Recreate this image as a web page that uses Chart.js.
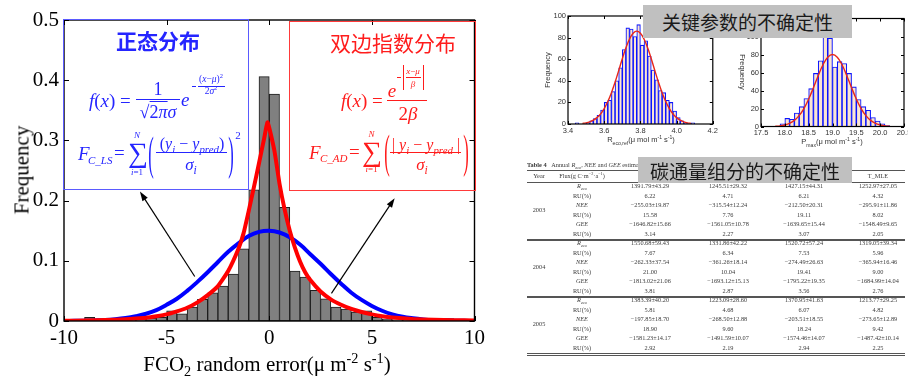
<!DOCTYPE html>
<html lang="zh">
<head>
<meta charset="utf-8">
<title>FCO2 随机误差分布与不确定性</title>
<script src="https://cdn.jsdelivr.net/npm/chart.js@4.4.1/dist/chart.umd.min.js"></script>
<style>
  html, body { margin:0; padding:0; background:#fff; }
  body { position:relative; width:908px; height:379px; overflow:hidden;
         font-family:"Liberation Serif","Times New Roman",serif; color:#000; }
  .pane { position:absolute; }
  .pane canvas { display:block; }
  #paneMain { left:0; top:0; width:490px; height:379px; }
  #paneR { left:520px; top:0; width:200px; height:150px; }
  #paneP { left:700px; top:0; width:230px; height:150px; }
  .t { position:absolute; white-space:nowrap; line-height:1; }
  .cc { transform:translate(-50%,-50%); }
  .lc { transform:translate(0,-50%); }
  sub, sup { font-size:0.68em; line-height:0; }
  .hl { position:absolute; height:0; border-top:1px solid currentColor; }
  .vl { position:absolute; width:0; border-left:1px solid currentColor; }
  .fbox { position:absolute; box-sizing:border-box; background:transparent; }
  .blue { color:#2525ff; }
  .red { color:#ff1c1c; }
  .cn { font-family:"Noto Sans CJK SC","Noto Sans",sans-serif; }
  .tag { position:absolute; background:#c0c0c0; color:#1a1a1a; font-family:"Noto Sans CJK SC",sans-serif;
         font-size:19px; display:flex; align-items:center; justify-content:center; box-sizing:border-box; }
  #tbl { position:absolute; left:0; top:0; width:908px; height:379px; filter:blur(0.35px); color:#3a3a3a;
         font-family:"Liberation Serif",serif; font-size:6.3px; }
  #tbl .c { position:absolute; white-space:nowrap; transform:translate(-50%,-50%); line-height:1; }
  #tbl .rule { position:absolute; left:527px; width:378px; height:0; }
  .small { font-family:"Liberation Sans",Arial,sans-serif; font-size:7.5px; color:#333; }
</style>
</head>
<body>

<div class="pane" id="paneMain"><canvas id="cMain"></canvas></div>
<div class="pane" id="paneR"><canvas id="cR"></canvas></div>
<div class="pane" id="paneP"><canvas id="cP"></canvas></div>

<!-- axis titles of the main histogram -->
<div class="t" id="ytMain" style="left:22px;top:170px;font-size:21px;transform:translate(-50%,-50%) rotate(-90deg);">Frequency</div>
<div class="t cc" id="xtMain" style="left:267px;top:364px;font-size:21px;">FCO<sub>2</sub> random error(μ m<sup>-2</sup> s<sup>-1</sup>)</div>

<!-- normal distribution panel -->
<div class="fbox" style="left:63px;top:19px;width:186px;height:171px;border:1.5px solid #5a5aff;"></div>
<div class="t cc cn blue" style="left:158px;top:40px;font-size:21px;font-weight:700;">正态分布</div>
<div class="blue">
  <span class="t lc" style="left:89px;top:100px;font-size:19px;"><i>f</i>(<i>x</i>) =</span>
  <span class="hl" style="left:136px;top:99px;width:44px;"></span>
  <span class="t cc" style="left:158px;top:89px;font-size:18px;">1</span>
  <span class="t cc" style="left:158px;top:112px;font-size:18px;">√<span style="border-top:1px solid #2525ff;">2<i>π</i></span><i>σ</i></span>
  <span class="t lc" style="left:181px;top:99px;font-size:19px;"><i>e</i></span>
  <span class="hl" style="left:192px;top:86px;width:4px;"></span>
  <span class="t cc" style="left:211px;top:80px;font-size:9.5px;">(<i>x</i>−<i>μ</i>)<sup>2</sup></span>
  <span class="hl" style="left:198px;top:86px;width:27px;"></span>
  <span class="t cc" style="left:211px;top:92px;font-size:9.5px;">2<i>σ</i><sup>2</sup></span>

  <span class="t lc" style="left:78px;top:153px;font-size:19px;"><i>F</i></span>
  <span class="t lc" style="left:88px;top:160px;font-size:11px;"><i>C_LS</i></span>
  <span class="t lc" style="left:114px;top:152px;font-size:19px;">=</span>
  <span class="t cc" style="left:138px;top:153px;font-size:28px;">∑</span>
  <span class="t cc" style="left:137px;top:135px;font-size:9px;"><i>N</i></span>
  <span class="t cc" style="left:137px;top:172px;font-size:9px;"><i>i</i>=1</span>
  <span class="t" style="left:151px;top:154px;font-size:22px;transform:translate(-50%,-50%) scale(0.75,2.1);">(</span>
  <span class="t cc" style="left:192px;top:144px;font-size:16px;">(<i>y</i><sub><i>i</i></sub> − <i>y</i><sub><i>pred</i></sub>)</span>
  <span class="hl" style="left:156px;top:152px;width:71px;"></span>
  <span class="t cc" style="left:191px;top:164px;font-size:17px;"><i>σ</i><sub><i>i</i></sub></span>
  <span class="t" style="left:231px;top:154px;font-size:22px;transform:translate(-50%,-50%) scale(0.75,2.1);">)</span>
  <span class="t cc" style="left:238px;top:135px;font-size:11px;">2</span>
</div>

<!-- Laplace distribution panel -->
<div class="fbox" style="left:289px;top:21px;width:187px;height:170px;border:1.5px solid #ff3a3a;"></div>
<div class="t cc cn red" style="left:393px;top:42px;font-size:21px;">双边指数分布</div>
<div class="red">
  <span class="t lc" style="left:341px;top:100px;font-size:19px;"><i>f</i>(<i>x</i>) =</span>
  <span class="hl" style="left:387px;top:100px;width:40px;"></span>
  <span class="t cc" style="left:392px;top:90px;font-size:19px;"><i>e</i></span>
  <span class="hl" style="left:397px;top:77px;width:4px;"></span>
  <span class="vl" style="left:403px;top:65px;height:25px;"></span>
  <span class="t cc" style="left:413px;top:70.5px;font-size:9px;"><i>x</i>−<i>μ</i></span>
  <span class="hl" style="left:406px;top:77px;width:15px;"></span>
  <span class="t cc" style="left:413px;top:84px;font-size:9px;"><i>β</i></span>
  <span class="vl" style="left:423px;top:65px;height:25px;"></span>
  <span class="t cc" style="left:408px;top:113px;font-size:19px;">2<i>β</i></span>

  <span class="t lc" style="left:309px;top:152px;font-size:19px;"><i>F</i></span>
  <span class="t lc" style="left:320px;top:158px;font-size:11px;"><i>C_AD</i></span>
  <span class="t lc" style="left:349px;top:151px;font-size:19px;">=</span>
  <span class="t cc" style="left:372px;top:152px;font-size:28px;">∑</span>
  <span class="t cc" style="left:371.5px;top:133.5px;font-size:9px;"><i>N</i></span>
  <span class="t cc" style="left:371.5px;top:169px;font-size:9px;"><i>i</i>=1</span>
  <span class="t" style="left:386.5px;top:152px;font-size:22px;transform:translate(-50%,-50%) scale(0.75,2.1);">(</span>
  <span class="t cc" style="left:426px;top:145px;font-size:16px;">| <i>y</i><sub><i>i</i></sub> − <i>y</i><sub><i>pred</i></sub> |</span>
  <span class="hl" style="left:390px;top:152px;width:71px;"></span>
  <span class="t cc" style="left:422px;top:163.5px;font-size:17px;"><i>σ</i><sub><i>i</i></sub></span>
  <span class="t" style="left:466px;top:152px;font-size:22px;transform:translate(-50%,-50%) scale(0.75,2.1);">)</span>
</div>

<!-- axis titles of the two parameter histograms -->
<div class="t small" style="left:548px;top:70px;transform:translate(-50%,-50%) rotate(-90deg);">Frequency</div>
<div class="t cc small" style="left:641px;top:140px;">R<sub>eco,ref</sub>(μ mol m<sup>-1</sup> s<sup>-1</sup>)</div>
<div class="t small" style="left:742px;top:72px;transform:translate(-50%,-50%) rotate(90deg);">Frequency</div>
<div class="t cc small" style="left:832px;top:142px;">P<sub>max</sub>(μ mol m<sup>-1</sup> s<sup>-1</sup>)</div>

<div id="tbl"></div>

<div class="tag" style="left:643px;top:5px;width:209px;height:33px;">关键参数的不确定性</div>
<div class="tag" style="left:638px;top:157px;width:214px;height:26px;">碳通量组分的不确定性</div>

<script>
// ---------- main histogram: FCO2 random error ----------
const errBinCenters = [-9.75,-9.25,-8.75,-8.25,-7.75,-7.25,-6.75,-6.25,-5.75,-5.25,
                       -4.75,-4.25,-3.75,-3.25,-2.75,-2.25,-1.75,-1.25,-0.75,-0.25,
                        0.25, 0.75, 1.25, 1.75, 2.25, 2.75, 3.25, 3.75, 4.25, 4.75,
                        5.25, 5.75, 6.25, 6.75, 7.25, 7.75, 8.25, 8.75, 9.25, 9.75];
const errFreq = [0.001,0.001,0.006,0.001,0.002,0.002,0.002,0.003,0.005,0.006,
                 0.017,0.012,0.023,0.036,0.047,0.058,0.078,0.120,0.218,0.406,
                 0.377,0.189,0.083,0.073,0.051,0.037,0.023,0.020,0.015,0.017,
                 0.006,0.003,0.002,0.002,0.001,0.001,0.001,0.004,0.001,0.001];

// fitted normal density
const normalX = [-10,-9.5,-9,-8.5,-8,-7.5,-7,-6.5,-6,-5.5,-5,-4.5,-4,-3.5,-3,-2.5,-2,-1.5,-1,-0.5,
                 0,0.5,1,1.5,2,2.5,3,3.5,4,4.5,5,5.5,6,6.5,7,7.5,8,8.5,9,9.5,10];
const normalY = [0.0001,0.0003,0.0005,0.001,0.0017,0.003,0.005,0.008,0.012,0.018,0.027,0.037,0.050,0.065,0.081,0.098,0.115,0.129,0.141,0.148,
                 0.150,0.147,0.139,0.127,0.111,0.095,0.078,0.062,0.047,0.035,0.025,0.017,0.011,0.007,0.0045,0.0027,0.0015,0.0009,0.0005,0.0003,0.0001];

// fitted Laplace (double exponential) density
const laplaceX = [-10,-9,-8,-7,-6.5,-6,-5.5,-5,-4.5,-4,-3.5,-3,-2.5,-2,-1.5,-1.25,-1,-0.75,-0.5,-0.25,-0.08,
                  0.25,0.5,0.75,1,1.25,1.5,1.75,2,2.5,3,3.5,4,4.5,5,5.5,6,7,8,9,10];
const laplaceY = [0.0004,0.0008,0.0015,0.0028,0.004,0.0055,0.008,0.011,0.016,0.022,0.031,0.043,0.058,0.083,0.120,0.146,0.183,0.222,0.262,0.303,0.330,
                  0.283,0.228,0.185,0.150,0.122,0.099,0.081,0.068,0.049,0.036,0.027,0.020,0.015,0.011,0.008,0.006,0.0035,0.002,0.0013,0.0008];

// annotation arrows, in data units (tail -> head)
const noteArrows = [
  { from: [-3.63, 0.074], to: [-6.30, 0.215] },
  { from: [ 3.03, 0.046], to: [ 6.11, 0.204] }
];

// ---------- parameter histograms ----------
const rBinCenters = [3.45,3.47,3.49,3.51,3.53,3.55,3.57,3.59,3.61,3.63,3.65,3.67,3.69,3.71,3.73,3.75,3.77,
                     3.79,3.81,3.83,3.85,3.87,3.89,3.91,3.93,3.95,3.97,3.99,4.01,4.03,4.05,4.07,4.09];
const rFreq = [1,0,0,1,3,5,8,13,20,22,30,40,52,69,89,88,81,92,73,77,63,50,41,31,29,22,20,12,6,3,1,0,1];
const rFitX = [3.48,3.50,3.52,3.54,3.56,3.58,3.60,3.62,3.64,3.66,3.68,3.70,3.72,3.74,3.76,3.78,
               3.80,3.82,3.84,3.86,3.88,3.90,3.92,3.94,3.96,3.98,4.00,4.02,4.04,4.06,4.08];
const rFitY = [0.6,1.1,2.0,3.5,5.9,9.3,14.3,20.8,29,38.6,49.4,60.4,70.5,78.7,84.1,86,
               84.1,78.7,70.5,60.4,49.4,38.6,29,20.8,14.3,9.3,5.9,3.5,2.0,1.1,0.6];

const pBinCenters = [17.95,18.05,18.15,18.25,18.35,18.45,18.55,18.65,18.75,18.85,18.95,
                     19.05,19.15,19.25,19.35,19.45,19.55,19.65,19.75,19.85,19.95,20.05,20.15];
const pFreq = [3,9,8,15,22,31,42,59,73,110,98,66,72,70,59,44,30,22,18,10,6,3,1];
const pFitX = [17.8,17.9,18.0,18.1,18.2,18.3,18.4,18.5,18.6,18.7,18.8,18.9,19.0,
               19.1,19.2,19.3,19.4,19.5,19.6,19.7,19.8,19.9,20.0,20.1,20.2];
const pFitY = [0.3,0.75,1.7,3.5,6.8,12.1,19.9,30.5,43.1,56.5,68.6,77,80,
               77,68.6,56.5,43.1,30.5,19.9,12.1,6.8,3.5,1.7,0.75,0.3];

// ---------- annual flux table ----------
const tableHeads = ['Year', 'Flux(g C·m<sup>−2</sup>·a<sup>−1</sup>)', 'LS', 'MLE', 'T_LS', 'T_MLE'];
const tableYears = ['2003', '2004', '2005'];
const fluxNames = ['<i>R</i><sub><i>eco</i></sub>', 'RU(%)', '<i>NEE</i>', 'RU(%)', '<i>GEE</i>', 'RU(%)'];
const flux2003 = [
  ['1391.79±43.29', '1245.51±29.32', '1427.15±44.31', '1252.97±27.05'],
  ['6.22', '4.71', '6.21', '4.32'],
  ['−255.03±19.87', '−315.54±12.24', '−212.50±20.31', '−295.91±11.86'],
  ['15.58', '7.76', '19.11', '8.02'],
  ['−1646.82±15.66', '−1561.05±10.78', '−1639.65±15.44', '−1548.49±9.65'],
  ['3.14', '2.27', '3.07', '2.05']];
const flux2004 = [
  ['1550.68±59.43', '1331.86±42.22', '1520.72±57.24', '1319.05±39.34'],
  ['7.67', '6.34', '7.53', '5.96'],
  ['−262.33±37.54', '−361.26±18.14', '−274.49±26.63', '−365.94±16.46'],
  ['21.00', '10.04', '19.41', '9.00'],
  ['−1813.02±21.06', '−1693.12±15.13', '−1795.22±19.35', '−1684.99±14.04'],
  ['3.81', '2.87', '3.56', '2.76']];
const flux2005 = [
  ['1383.39±40.20', '1223.09±28.60', '1370.95±41.63', '1213.77±29.25'],
  ['5.81', '4.68', '6.07', '4.82'],
  ['−197.85±18.70', '−268.50±12.88', '−203.51±18.55', '−273.65±12.89'],
  ['18.90', '9.60', '18.24', '9.42'],
  ['−1581.23±14.17', '−1491.59±10.07', '−1574.46±14.07', '−1487.42±10.14'],
  ['2.92', '2.19', '2.94', '2.25']];

const zip = (xs, ys) => xs.map((x, i) => ({ x, y: ys[i] }));

// box frame with inward ticks on all four sides (plus optional arrows)
function framePlugin(cfg) {
  return {
    id: 'frameTicks',
    afterDatasetsDraw(chart) {
      const { ctx, chartArea: a, scales } = chart;
      const sx = scales.x, sy = scales.y;
      ctx.save();
      ctx.strokeStyle = '#000';
      ctx.lineWidth = cfg.width;
      ctx.strokeRect(a.left, a.top, a.right - a.left, a.bottom - a.top);
      ctx.beginPath();
      for (const t of sx.ticks) {
        const p = Math.round(sx.getPixelForValue(t.value)) + 0.5;
        ctx.moveTo(p, a.bottom); ctx.lineTo(p, a.bottom - cfg.len);
        ctx.moveTo(p, a.top); ctx.lineTo(p, a.top + cfg.len);
      }
      for (const t of sy.ticks) {
        const p = Math.round(sy.getPixelForValue(t.value)) + 0.5;
        ctx.moveTo(a.left, p); ctx.lineTo(a.left + cfg.len, p);
        ctx.moveTo(a.right, p); ctx.lineTo(a.right - cfg.len, p);
      }
      ctx.lineWidth = 1;
      ctx.stroke();
      for (const ar of (cfg.arrows || [])) {
        const x0 = sx.getPixelForValue(ar.from[0]), y0 = sy.getPixelForValue(ar.from[1]);
        const x1 = sx.getPixelForValue(ar.to[0]), y1 = sy.getPixelForValue(ar.to[1]);
        const ang = Math.atan2(y1 - y0, x1 - x0);
        ctx.lineWidth = 1.2;
        ctx.beginPath();
        ctx.moveTo(x0, y0);
        ctx.lineTo(x1 - 6 * Math.cos(ang), y1 - 6 * Math.sin(ang));
        ctx.stroke();
        ctx.beginPath();
        ctx.moveTo(x1, y1);
        ctx.lineTo(x1 - 10 * Math.cos(ang - 0.32), y1 - 10 * Math.sin(ang - 0.32));
        ctx.lineTo(x1 - 10 * Math.cos(ang + 0.32), y1 - 10 * Math.sin(ang + 0.32));
        ctx.closePath();
        ctx.fillStyle = '#000';
        ctx.fill();
      }
      ctx.restore();
    }
  };
}

const serif = { family: '"Liberation Serif","Times New Roman",serif', size: 21 };
const sans = { family: '"Liberation Sans",Arial,sans-serif', size: 7.5 };

new Chart(document.getElementById('cMain'), {
  type: 'bar',
  data: {
    datasets: [
      { type: 'line', label: '双边指数分布', data: zip(laplaceX, laplaceY), borderColor: '#ff0000',
        borderWidth: 4, pointRadius: 0, tension: 0.15, order: 0 },
      { type: 'line', label: '正态分布', data: zip(normalX, normalY), borderColor: '#0000ff',
        borderWidth: 4, pointRadius: 0, tension: 0.4, order: 1 },
      { type: 'bar', label: 'Frequency', data: zip(errBinCenters, errFreq), backgroundColor: '#808080',
        borderColor: '#1e1e1e', borderWidth: 1, borderSkipped: false, barPercentage: 1, categoryPercentage: 1, order: 2 }
    ]
  },
  options: {
    responsive: true, maintainAspectRatio: false, animation: false,
    layout: { padding: { left: 0, right: 15, top: 20, bottom: 0 } },
    plugins: { legend: { display: false }, tooltip: { enabled: false } },
    scales: {
      x: { type: 'linear', min: -10, max: 10, offset: false,
           grid: { display: false, drawTicks: false }, border: { display: false },
           ticks: { stepSize: 5, padding: 5, font: serif, color: '#000', maxRotation: 0, autoSkip: false },
           afterFit(s) { s.height = 58; } },
      y: { min: 0, max: 0.5,
           grid: { display: false, drawTicks: false }, border: { display: false },
           ticks: { stepSize: 0.1, padding: 5, font: serif, color: '#000' },
           afterFit(s) { s.width = 64; } }
    }
  },
  plugins: [framePlugin({ width: 1.4, len: 5, arrows: noteArrows })]
});

function paramChart(id, bins, freq, fitX, fitY, xr, yMax, pad, yWidth, xHeight) {
  return new Chart(document.getElementById(id), {
    type: 'bar',
    data: {
      datasets: [
        { type: 'line', data: zip(fitX, fitY), borderColor: '#e8281a', borderWidth: 1.4,
          pointRadius: 0, tension: 0.4, order: 0 },
        { type: 'bar', data: zip(bins, freq), backgroundColor: '#fbe6d2', borderColor: '#0a14ff',
          borderWidth: 1.1, borderSkipped: 'start', barPercentage: 1, categoryPercentage: 1, order: 1 }
      ]
    },
    options: {
      responsive: true, maintainAspectRatio: false, animation: false,
      layout: { padding: pad },
      plugins: { legend: { display: false }, tooltip: { enabled: false } },
      scales: {
        x: { type: 'linear', min: xr[0], max: xr[1], offset: false,
             grid: { display: false, drawTicks: false }, border: { display: false },
             ticks: { stepSize: xr[2], padding: 2, font: sans, color: '#333', maxRotation: 0, autoSkip: false },
             afterFit(s) { s.height = xHeight; } },
        y: { min: 0, max: yMax,
             grid: { display: false, drawTicks: false }, border: { display: false },
             ticks: { stepSize: 20, padding: 2, font: sans, color: '#333' },
             afterFit(s) { s.width = yWidth; } }
      }
    },
    plugins: [framePlugin({ width: 1.2, len: 3 })]
  });
}

paramChart('cR', rBinCenters, rFreq, rFitX, rFitY, [3.4, 4.2, 0.2], 100,
           { left: 0, right: 7, top: 16, bottom: 0 }, 48, 26);
paramChart('cP', pBinCenters, pFreq, pFitX, pFitY, [17.5, 20.5, 0.5], 120,
           { left: 0, right: 26, top: 18.5, bottom: 0 }, 61, 23.5);

// ---------- table ----------
(function buildTable() {
  const host = document.getElementById('tbl');
  const colX = [539, 582, 650, 728, 804, 878];
  const add = (html, x, y, extra) => {
    const d = document.createElement('div');
    d.className = 'c';
    d.innerHTML = html;
    d.style.left = x + 'px';
    d.style.top = y + 'px';
    if (extra) d.style.cssText += extra;
    host.appendChild(d);
  };
  const rule = (y, w, style) => {
    const d = document.createElement('div');
    d.className = 'rule';
    d.style.top = y + 'px';
    d.style.borderTop = w + 'px ' + (style || 'solid') + ' #555';
    host.appendChild(d);
  };
  const cap = document.createElement('div');
  cap.className = 'c';
  cap.style.cssText = 'left:527px;top:165px;transform:translate(0,-50%);';
  cap.innerHTML = '<b>Table 4</b>&nbsp;&nbsp;&nbsp;Annual <i>R</i><sub><i>eco</i></sub>, <i>NEE</i> and <i>GEE</i> estimates and uncertainties';
  host.appendChild(cap);

  rule(170, 1.5);
  tableHeads.forEach((h, i) => add(h, colX[i], 176));
  rule(181.5, 0.6);
  const groups = [flux2003, flux2004, flux2005];
  const rowH = 9.5;
  groups.forEach((g, gi) => {
    const top = 181.5 + gi * 57;
    add(tableYears[gi], colX[0], top + 28.5);
    g.forEach((row, ri) => {
      const y = top + rowH * (ri + 0.5);
      add(fluxNames[ri], colX[1], y);
      row.forEach((v, ci) => add(v, colX[ci + 2], y));
    });
    rule(top + 57, gi === 2 ? 3 : 2.5, 'double');
  });
})();
</script>
</body>
</html>
